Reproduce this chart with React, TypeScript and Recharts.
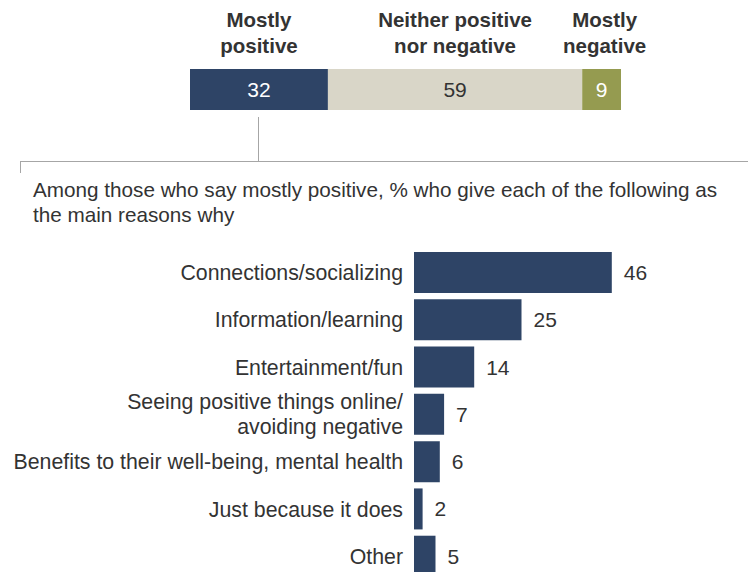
import React from "react";
import { BarChart, Bar, XAxis, YAxis, LabelList } from "recharts";

// top stacked bar
const topKeys = ["positive", "neither", "negative"];
const topHeaders = ["Mostly\npositive", "Neither positive\nnor negative", "Mostly\nnegative"];
const topValues = [32, 59, 9];
const topColors = ["#2e4466", "#d9d6c8", "#959b50"];
const topValueColors = ["#ffffff", "#333333", "#ffffff"];

// reasons among "mostly positive"
const reasonLabels = [
  "Connections/socializing",
  "Information/learning",
  "Entertainment/fun",
  "Seeing positive things online/\navoiding negative",
  "Benefits to their well-being, mental health",
  "Just because it does",
  "Other",
];
const reasonValues = [46, 25, 14, 7, 6, 2, 5];

const topRow: Record<string, string | number> = { name: "all" };
topKeys.forEach((k, i) => {
  topRow[k] = topValues[i];
});
const reasonRows = reasonLabels.map((label, i) => ({ label, value: reasonValues[i] }));

const SANS = "'Liberation Sans', Arial, sans-serif";
const TEXT = "#333333";

const headerLabel = (i: number) => (props: any) => {
  const { x, y, width } = props;
  const cx = Number(x) + Number(width) / 2 + (i === 2 ? 3 : 0);
  const lines = topHeaders[i].split("\n");
  return (
    <text x={cx} textAnchor="middle" fontFamily={SANS} fontWeight="bold" fontSize={20.5} fill={TEXT}>
      {lines.map((l, j) => (
        <tspan key={j} x={cx} y={Number(y) - 42 + j * 26}>
          {l}
        </tspan>
      ))}
    </text>
  );
};

const ReasonTick = (props: any) => {
  const { x, y, payload } = props;
  const lines = String(payload.value).split("\n");
  const lh = 25;
  const start = y - ((lines.length - 1) * lh) / 2;
  return (
    <text x={x} textAnchor="end" fontFamily={SANS} fontSize={21.3} fill={TEXT}>
      {lines.map((l, i) => (
        <tspan key={i} x={x} y={start + i * lh} dy="0.35em">
          {l}
        </tspan>
      ))}
    </text>
  );
};

export default function App() {
  return (
    <div
      style={{
        position: "absolute",
        left: 0,
        top: 0,
        width: 748,
        height: 572,
        overflow: "hidden",
        background: "#fff",
      }}
    >
      <div style={{ position: "absolute", left: 0, top: 0 }}>
        <BarChart
          width={748}
          height={125}
          data={[topRow]}
          layout="vertical"
          margin={{ top: 69, right: 127, bottom: 15, left: 190 }}
          barCategoryGap={0}
        >
          <XAxis type="number" domain={[0, 100]} hide />
          <YAxis type="category" dataKey="name" hide />
          {topKeys.map((k, i) => (
            <Bar key={k} dataKey={k} stackId="a" fill={topColors[i]} isAnimationActive={false}>
              <LabelList
                dataKey={k}
                position="center"
                fill={topValueColors[i]}
                fontFamily={SANS}
                fontSize={21}
              />
              <LabelList dataKey={k} content={headerLabel(i)} />
            </Bar>
          ))}
        </BarChart>
      </div>

      <svg
        width={748}
        height={180}
        style={{ position: "absolute", left: 0, top: 0, pointerEvents: "none" }}
      >
        <line x1={258.5} y1={117} x2={258.5} y2={161} stroke="#a6a6a6" strokeWidth={1} />
        <line x1={20} y1={161.5} x2={748} y2={161.5} stroke="#a6a6a6" strokeWidth={1} />
        <line x1={20.5} y1={161} x2={20.5} y2={173} stroke="#a6a6a6" strokeWidth={1} />
      </svg>

      <div
        style={{
          position: "absolute",
          left: 33,
          top: 177,
          fontFamily: SANS,
          fontSize: 20.7,
          lineHeight: "25px",
          color: TEXT,
          whiteSpace: "nowrap",
        }}
      >
        Among those who say mostly positive, % who give each of the following as
        <br />
        the main reasons why
      </div>

      <div style={{ position: "absolute", left: 0, top: 249 }}>
        <BarChart
          width={748}
          height={331}
          data={reasonRows}
          layout="vertical"
          margin={{ top: 0, right: 119, bottom: 0, left: 0 }}
        >
          <XAxis type="number" domain={[0, 50]} hide />
          <YAxis
            type="category"
            dataKey="label"
            width={414}
            axisLine={false}
            tickLine={false}
            tickSize={0}
            tickMargin={11}
            interval={0}
            tick={<ReasonTick />}
          />
          <Bar dataKey="value" fill="#2e4466" barSize={41} isAnimationActive={false}>
            <LabelList
              dataKey="value"
              position="right"
              offset={12}
              fill={TEXT}
              fontFamily={SANS}
              fontSize={21}
            />
          </Bar>
        </BarChart>
      </div>
    </div>
  );
}
